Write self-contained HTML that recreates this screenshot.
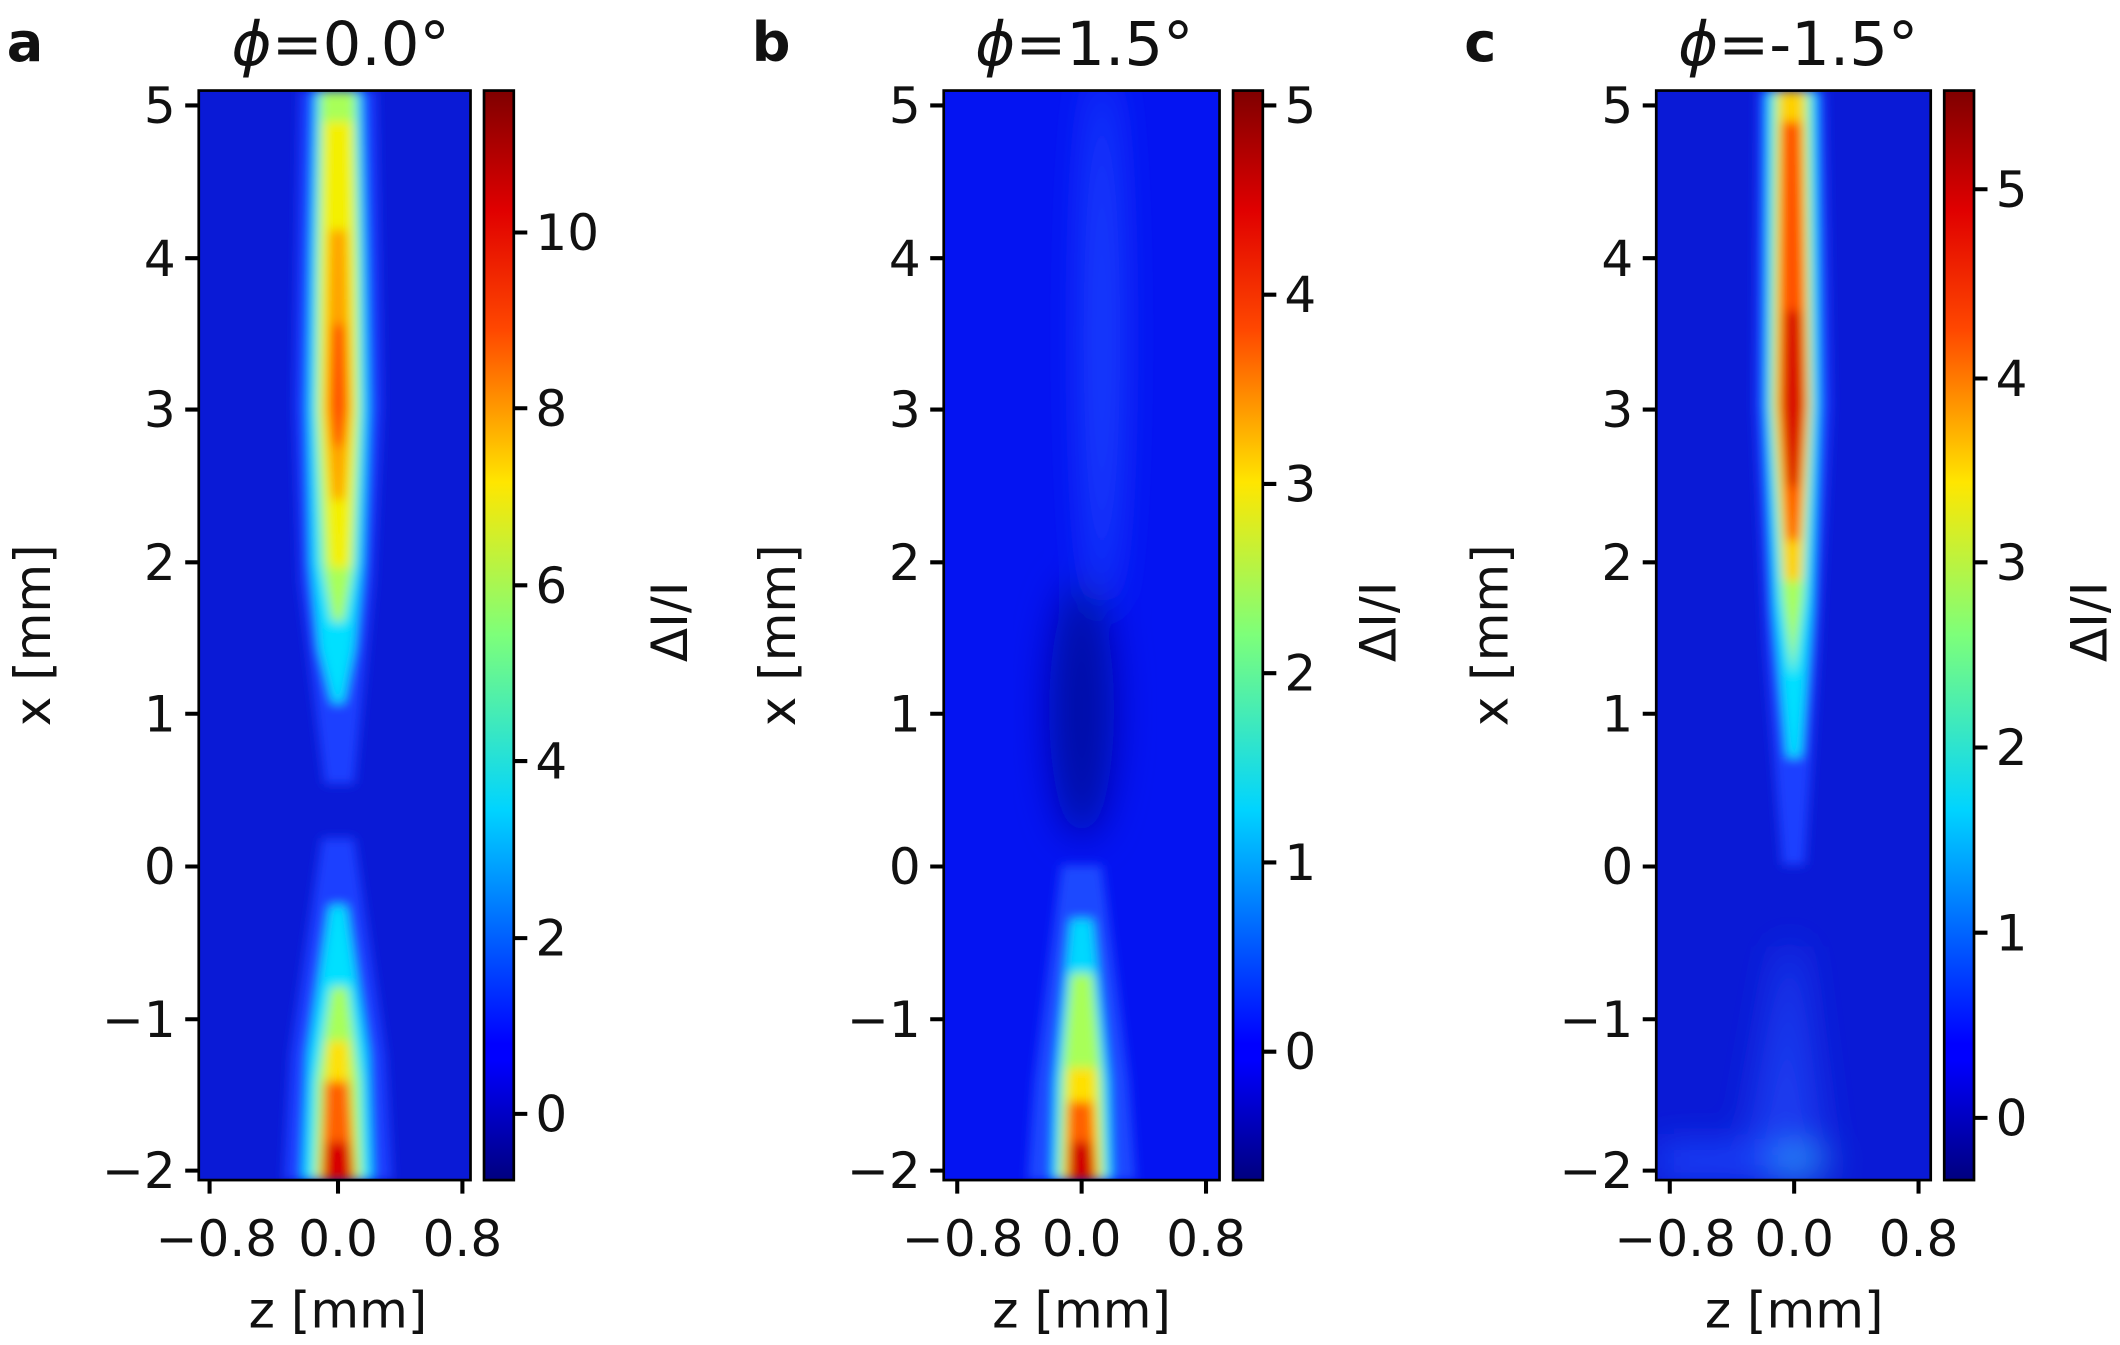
<!DOCTYPE html>
<html><head><meta charset="utf-8"><style>
html,body{margin:0;padding:0;background:#fff;}
svg{display:block;}
text{font-family:"DejaVu Sans","Liberation Sans",sans-serif;fill:#111;}
</style></head><body>
<svg width="2120" height="1345" viewBox="0 0 1568 995" preserveAspectRatio="none" xmlns="http://www.w3.org/2000/svg">
<defs>
<linearGradient id="jet" x1="0" y1="1" x2="0" y2="0">
<stop offset="0" stop-color="#00007f"/><stop offset="0.11" stop-color="#0000ff"/>
<stop offset="0.125" stop-color="#0000ff"/><stop offset="0.34" stop-color="#00d4ff"/>
<stop offset="0.5" stop-color="#7dff7a"/><stop offset="0.64" stop-color="#ffe600"/>
<stop offset="0.78" stop-color="#ff4800"/><stop offset="0.89" stop-color="#e00000"/>
<stop offset="1" stop-color="#7f0000"/></linearGradient>
<filter id="bl" x="-50%" y="-10%" width="200%" height="120%"><feGaussianBlur stdDeviation="4"/></filter>
<filter id="bl2" x="-50%" y="-20%" width="200%" height="140%"><feGaussianBlur stdDeviation="14"/></filter>
<clipPath id="ca"><rect x="147" y="67" width="201" height="806"/></clipPath>
<clipPath id="cb"><rect x="698" y="67" width="204" height="806"/></clipPath>
<clipPath id="cc"><rect x="1225" y="67" width="203" height="806"/></clipPath>
</defs>

<!-- Panel a -->
<g clip-path="url(#ca)">
<rect x="147" y="67" width="201" height="806" fill="#0a1ad6"/>
<g filter="url(#bl)">
<polygon fill="#1a40ff" points="222,67 278,67 282,300 276,430 262,580 240,580 222,430 218,300"/>
<polygon fill="#00e0ff" points="233,67 267,67 270,191 272,303 268,416 262,480 254,520 246,520 236,480 230,416 228,303 230,191"/>
<polygon fill="#a8ff58" points="237,67 263,67 265,191 266,303 262,416 254,460 246,460 238,416 234,303 235,191"/>
<polygon fill="#f4f000" points="240,90 260,90 262,200 263,303 258,420 244,420 237,303 238,200"/>
<polygon fill="#ffa000" points="244,170 256,170 259,303 254,370 246,370 241,303"/>
<polygon fill="#ff5000" points="246,240 255,240 257,300 253,330 247,330 244,300"/>
<polygon fill="#1a40ff" points="238,620 262,620 285,780 290,873 210,873 215,780"/>
<polygon fill="#00e0ff" points="244,670 256,670 272,780 275,873 224,873 228,780"/>
<polygon fill="#a8ff58" points="245,730 257,730 266,800 268,873 232,873 234,800"/>
<polygon fill="#ffe000" points="243,770 257,770 263,873 236,873"/>
<polygon fill="#ff6000" points="240,800 258,800 262,873 238,873"/>
<polygon fill="#d80000" points="241,845 258,845 262,873 238,873"/>
</g>
</g>
<rect x="147" y="67" width="201" height="806" fill="none" stroke="#000" stroke-width="2"/>
<rect x="358" y="67" width="22" height="806" fill="url(#jet)" stroke="#000" stroke-width="2"/>

<!-- Panel b -->
<g clip-path="url(#cb)">
<rect x="698" y="67" width="204" height="806" fill="#0414f2"/>
<g filter="url(#bl2)">
<ellipse cx="815" cy="250" rx="14" ry="200" fill="#1a44ff"/>
<ellipse cx="800" cy="525" rx="24" ry="95" fill="#000aa8"/>
</g>
<g filter="url(#bl)">
<polygon fill="#1a48ff" points="785,640 815,640 835,800 840,873 760,873 765,800"/>
<polygon fill="#00d8ff" points="792,680 808,680 820,800 822,873 778,873 780,800"/>
<polygon fill="#a8ff58" points="792,720 808,720 815,800 817,873 783,873 785,800"/>
<polygon fill="#ffe000" points="790,790 810,790 813,873 787,873"/>
<polygon fill="#ff6000" points="790,815 808,815 811,873 789,873"/>
<polygon fill="#d00000" points="792,845 807,845 810,873 790,873"/>
</g>
</g>
<rect x="698" y="67" width="204" height="806" fill="none" stroke="#000" stroke-width="2"/>
<rect x="912" y="67" width="22" height="806" fill="url(#jet)" stroke="#000" stroke-width="2"/>

<!-- Panel c -->
<g clip-path="url(#cc)">
<rect x="1225" y="67" width="203" height="806" fill="#0a1ad6"/>
<g filter="url(#bl)">
<polygon fill="#1a40ff" points="1300,67 1350,67 1354,300 1345,480 1335,640 1318,640 1306,480 1298,300"/>
<polygon fill="#00e0ff" points="1307,67 1343,67 1345,300 1340,450 1332,560 1322,560 1312,450 1306,300"/>
<polygon fill="#a8ff58" points="1312,67 1338,67 1340,300 1334,440 1326,500 1318,440 1310,300"/>
<polygon fill="#ffd000" points="1316,67 1334,67 1338,300 1332,430 1320,430 1313,300"/>
<polygon fill="#ff5000" points="1318,90 1332,90 1336,300 1330,400 1322,400 1316,300"/>
<polygon fill="#d81000" points="1320,230 1332,230 1334,300 1330,360 1322,360 1318,300"/>
</g>
<g filter="url(#bl2)">
<polygon fill="#1a3cf0" points="1318,700 1330,700 1350,860 1290,860"/>
<ellipse cx="1320" cy="862" rx="32" ry="9" fill="#30b0ff"/>
<rect x="1225" y="848" width="90" height="22" fill="#1a48ff"/>
</g>
</g>
<rect x="1225" y="67" width="203" height="806" fill="none" stroke="#000" stroke-width="2"/>
<rect x="1438" y="67" width="22" height="806" fill="url(#jet)" stroke="#000" stroke-width="2"/>

<g stroke="#000" stroke-width="3">
<path d="M137,78H147M137,191H147M137,303H147M137,416H147M137,528H147M137,641H147M137,754H147M137,866H147"/>
<path d="M688,78H698M688,191H698M688,303H698M688,416H698M688,528H698M688,641H698M688,754H698M688,866H698"/>
<path d="M1215,78H1225M1215,191H1225M1215,303H1225M1215,416H1225M1215,528H1225M1215,641H1225M1215,754H1225M1215,866H1225"/>
<path d="M155,873V883M250,873V883M342,873V883"/>
<path d="M708,873V883M800,873V883M892,873V883"/>
<path d="M1235,873V883M1327,873V883M1419,873V883"/>
<path d="M380,172H390M380,302H390M380,433H390M380,563H390M380,694H390M380,824H390"/>
<path d="M934,78H944M934,218H944M934,358H944M934,498H944M934,638H944M934,778H944"/>
<path d="M1460,140H1470M1460,280H1470M1460,416H1470M1460,553H1470M1460,690H1470M1460,827H1470"/>
</g>

<g font-size="37" text-anchor="end">
<text x="130" y="91">5</text><text x="130" y="204">4</text><text x="130" y="316">3</text><text x="130" y="429">2</text><text x="130" y="541">1</text><text x="130" y="654">0</text><text x="130" y="767">−1</text><text x="130" y="879">−2</text>
<text x="681" y="91">5</text><text x="681" y="204">4</text><text x="681" y="316">3</text><text x="681" y="429">2</text><text x="681" y="541">1</text><text x="681" y="654">0</text><text x="681" y="767">−1</text><text x="681" y="879">−2</text>
<text x="1208" y="91">5</text><text x="1208" y="204">4</text><text x="1208" y="316">3</text><text x="1208" y="429">2</text><text x="1208" y="541">1</text><text x="1208" y="654">0</text><text x="1208" y="767">−1</text><text x="1208" y="879">−2</text>
</g>
<g font-size="37" text-anchor="start">
<text x="396" y="185">10</text><text x="396" y="315">8</text><text x="396" y="446">6</text><text x="396" y="576">4</text><text x="396" y="707">2</text><text x="396" y="837">0</text>
<text x="950" y="91">5</text><text x="950" y="231">4</text><text x="950" y="371">3</text><text x="950" y="511">2</text><text x="950" y="651">1</text><text x="950" y="791">0</text>
<text x="1476" y="153">5</text><text x="1476" y="293">4</text><text x="1476" y="429">3</text><text x="1476" y="566">2</text><text x="1476" y="703">1</text><text x="1476" y="840">0</text>
</g>
<g font-size="37" text-anchor="middle">
<text x="160" y="929">−0.8</text><text x="250" y="929">0.0</text><text x="342" y="929">0.8</text>
<text x="712" y="929">−0.8</text><text x="800" y="929">0.0</text><text x="892" y="929">0.8</text>
<text x="1239" y="929">−0.8</text><text x="1327" y="929">0.0</text><text x="1419" y="929">0.8</text>
<text x="250" y="982">z [mm]</text><text x="800" y="982">z [mm]</text><text x="1327" y="982">z [mm]</text>
<text transform="translate(37,470) rotate(-90)">x [mm]</text>
<text transform="translate(588,470) rotate(-90)">x [mm]</text>
<text transform="translate(1115,470) rotate(-90)">x [mm]</text>
<text transform="translate(508,460) rotate(-90)">ΔI/I</text>
<text transform="translate(1032,460) rotate(-90)">ΔI/I</text>
<text transform="translate(1558,460) rotate(-90)">ΔI/I</text>
</g>
<g font-size="45" text-anchor="middle">
<text x="252" y="48"><tspan font-style="italic">ϕ</tspan>=0.0°</text>
<text x="802" y="48"><tspan font-style="italic">ϕ</tspan>=1.5°</text>
<text x="1330" y="48"><tspan font-style="italic">ϕ</tspan>=-1.5°</text>
</g>
<g font-size="40" font-weight="bold" style="font-family:'Liberation Sans',sans-serif">
<text x="5" y="45">a</text><text x="556" y="45">b</text><text x="1083" y="45">c</text>
</g>
</svg>
</body></html>
